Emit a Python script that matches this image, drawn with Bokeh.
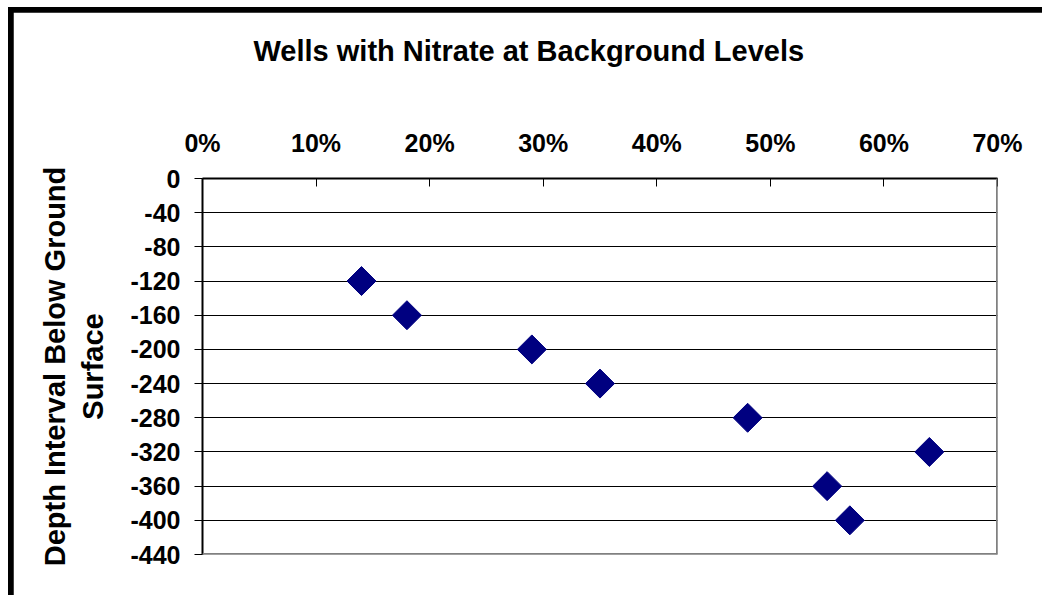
from math import pi

from bokeh.embed import file_html
from bokeh.layouts import column
from bokeh.models import FixedTicker, NumeralTickFormatter, Range1d, Span, Title
from bokeh.plotting import figure
from bokeh.resources import INLINE

# Share of wells with nitrate at background levels, by depth interval
pct_background = [0.14, 0.18, 0.29, 0.35, 0.48, 0.55, 0.57, 0.64]
depth_interval = [-120, -160, -200, -240, -280, -360, -400, -320]

x_ticks = [0.0, 0.1, 0.2, 0.3, 0.4, 0.5, 0.6, 0.7]
y_ticks = [0, -40, -80, -120, -160, -200, -240, -280, -320, -360, -400, -440]

title_text = "Wells with Nitrate at Background Levels"
y_title_lines = ["Surface", "Depth Interval Below Ground"]

FONT = "Liberation Sans"

p = figure(
    width=1029, height=583,
    output_backend="svg", toolbar_location=None,
    x_axis_location="above",
    x_range=Range1d(0, 0.7), y_range=Range1d(-440, 0),
    min_border_left=189, min_border_right=45,
    min_border_top=166, min_border_bottom=41,
    background_fill_color="white", border_fill_color="white",
)
p.outline_line_color = None

text_style = dict(text_font=FONT, text_font_size="29px",
                  text_font_style="bold", text_color="black")

# blank spacer between the top axis and the chart title
p.add_layout(Title(text=" ", text_font_size="1px", standoff=56), "above")
p.title.text = title_text
p.title.align = "left"
p.title.offset = 51
p.title.standoff = 0
for k, v in text_style.items():
    setattr(p.title, k, v)

# two-line vertical axis title, with a blank spacer next to the axis
p.add_layout(Title(text=" ", text_font_size="1px", standoff=14), "left")
for line in y_title_lines:
    p.add_layout(Title(text=line, align="center", standoff=4, **text_style),
                 "left")

xa = p.xaxis[0]
xa.ticker = FixedTicker(ticks=x_ticks)
xa.formatter = NumeralTickFormatter(format="0%")
xa.major_tick_in = 8
xa.major_tick_out = 0
xa.minor_tick_line_color = None
xa.major_label_standoff = 22

ya = p.yaxis[0]
ya.ticker = FixedTicker(ticks=y_ticks)
ya.formatter = NumeralTickFormatter(format="0")
ya.major_tick_in = 0
ya.major_tick_out = 8
ya.minor_tick_line_color = None
ya.major_label_standoff = 14

for ax in (xa, ya):
    ax.axis_line_color = "black"
    ax.axis_line_width = 2
    ax.major_tick_line_color = "black"
    ax.major_tick_line_width = 1
    ax.major_label_text_font = FONT
    ax.major_label_text_font_size = "25px"
    ax.major_label_text_font_style = "bold"
    ax.major_label_text_color = "black"

p.xgrid.visible = False
p.ygrid.ticker = FixedTicker(ticks=y_ticks)
p.ygrid.grid_line_color = "black"
p.ygrid.grid_line_width = 1

# grey plot-area edges on the right and bottom
p.add_layout(Span(location=0.7, dimension="height",
                  line_color="#808080", line_width=3))
p.add_layout(Span(location=-440, dimension="width",
                  line_color="#808080", line_width=3))

p.scatter(pct_background, depth_interval, marker="square", size=20.5,
          angle=pi / 4, fill_color="#000080", line_color="#000080")

# heavy black chart-area frame showing along the left and top edges
root = column(p, styles={
    "background-color": "black",
    "padding-left": "5px",
    "padding-top": "5px",
    "margin-left": "8px",
    "margin-top": "7px",
})

open("out.html", "w").write(file_html(root, INLINE))
